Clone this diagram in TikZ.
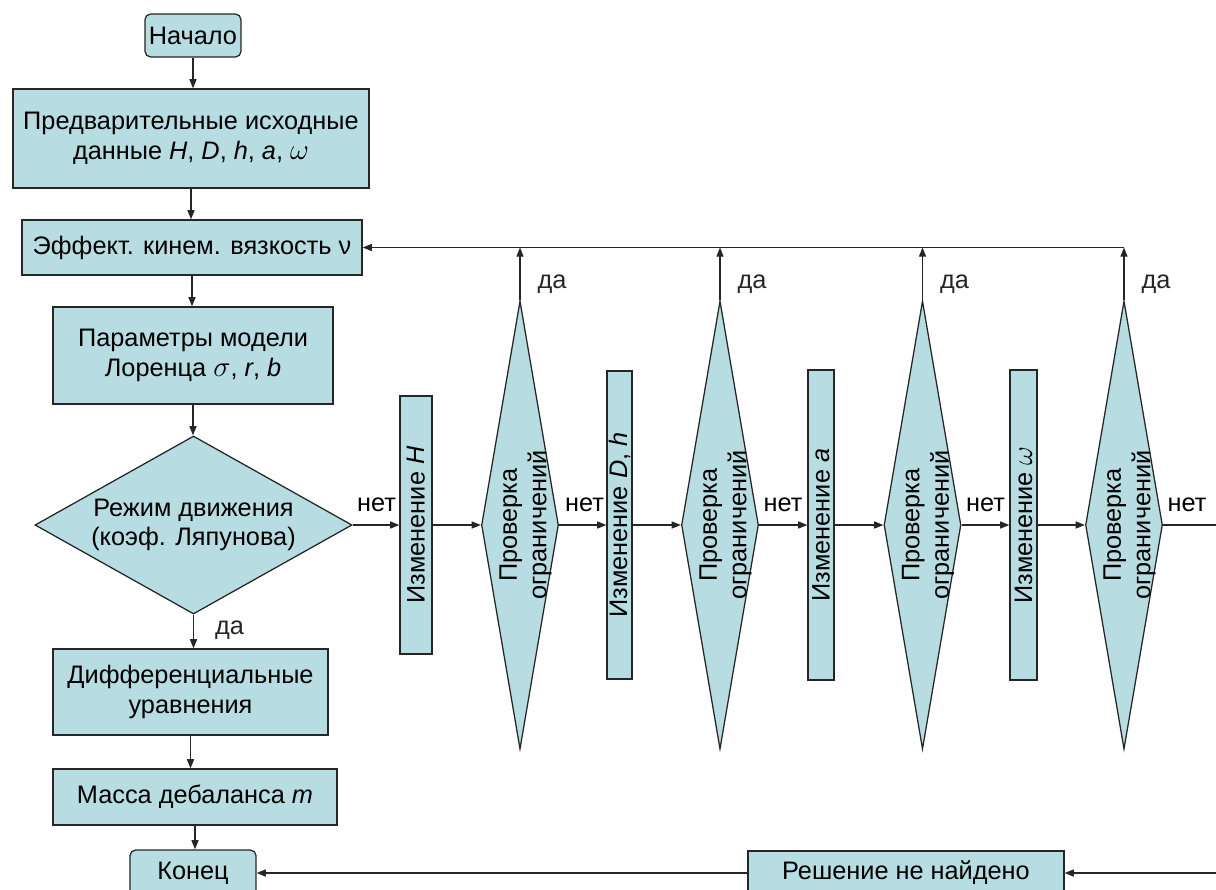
\documentclass[tikz,border=0pt]{standalone}
\usepackage{fontspec}
\setmainfont{Liberation Sans}
\usepackage{graphicx}
\usetikzlibrary{shapes.geometric,arrows.meta}
\definecolor{boxfill}{RGB}{183,221,226}
\newcommand{\grk}[1]{\scalebox{1.2}{$#1$}}
\begin{document}
\begin{tikzpicture}[x=0.025cm, y=-0.025cm,
		font=\fontsize{18}{21}\selectfont,
		blok/.style={draw=black!85, fill=boxfill, line width=0.9pt, inner sep=0pt, align=center},
		okr/.style={blok, rounded corners=4pt},
		romb/.style={blok, diamond, aspect=1.8},
		arr/.style={-{Triangle[length=6.5pt,width=5pt]}, line width=0.9pt, black!85},
		lbl/.style={inner sep=0pt}]
	\useasboundingbox (0,0) rectangle (1216,889);
	\clip (0,0) rectangle (1216,889);
	% left column
	\node[okr, minimum width=2.4cm, minimum height=1.075cm] (start) at (193,35.5) {Начало};
	\node[blok, minimum width=8.9cm, minimum height=2.475cm] (pre) at (191,138.5) {Предварительные исходные\\данные \textit{H}, \textit{D}, \textit{h}, \textit{a}, \grk{\omega}};
	\node[blok, minimum width=8.5cm, minimum height=1.375cm] (eff) at (192,247.5) {Эффект. кинем. вязкость ν};
	\node[blok, minimum width=7cm, minimum height=2.425cm] (par) at (193,355.5) {Параметры модели\\Лоренца \grk{\sigma}, \textit{r}, \textit{b}};
	\node[romb, minimum width=7.925cm, minimum height=4.45cm] (mode) at (193.5,525) {Режим движения\\(коэф. Ляпунова)};
	\node[blok, minimum width=6.875cm, minimum height=2.15cm] (dif) at (190.5,692) {Дифференциальные\\уравнения};
	\node[blok, minimum width=7.1cm, minimum height=1.4cm] (mass) at (195,797) {Масса дебаланса \textit{m}};
	\node[okr, minimum width=3.15cm, minimum height=1.15cm] (end) at (193,873) {Конец};
	\node[blok, minimum width=7.9cm, minimum height=1.1cm] (nf) at (906,873) {Решение не найдено};
	% changes and checks
	\node[blok, minimum width=0.8cm, minimum height=6.45cm] (chH) at (416,525) {\rotatebox{90}{Изменение \textit{H}}};
	\node[blok, minimum width=0.625cm, minimum height=7.7cm] (chD) at (619.5,525) {\rotatebox{90}{Изменение \textit{D}, \textit{h}}};
	\node[blok, minimum width=0.65cm, minimum height=7.75cm] (chA) at (821,525) {\rotatebox{90}{Изменение \textit{a}}};
	\node[blok, minimum width=0.675cm, minimum height=7.75cm] (chW) at (1023.5,525) {\rotatebox{90}{Изменение \grk{\omega}}};
	\foreach \n/\x in {1/520, 2/720, 3/922.5, 4/1124}{
		\node[romb, minimum width=1.925cm, minimum height=11.2cm] (d\n) at (\x,525) {};
		\node[lbl, rotate=90, align=center] (t\n) at ([xshift=4pt]d\n) {Проверка\\ограничений};
		\draw[arr] (d\n.north) -- node[lbl, right, xshift=12pt, pos=0.3] {да} (d\n.north |- eff.east);
	}
	\coordinate (rt) at (1240,525);
	% down the left column
	\draw[arr] (start.south) -- (start.south |- pre.north);
	\draw[arr] (pre.south) -- (pre.south |- eff.north);
	\draw[arr] (eff.south) -- (eff.south |- par.north);
	\draw[arr] (par.south) -- (par.south |- mode.north);
	\draw[arr] (mode.south) -- node[lbl, right, xshift=15pt, pos=0.45] {да} (mode.south |- dif.north);
	\draw[arr] (dif.south) -- (dif.south |- mass.north);
	\draw[arr] (mass.south) -- (mass.south |- end.north);
	% the "no" chain
	\node[lbl, anchor=south west] (n0) at ([xshift=3pt,yshift=9pt]mode.east) {нет};
	\node[lbl, anchor=south west] (n1) at ([xshift=4pt,yshift=9pt]d1.east) {нет};
	\node[lbl, anchor=south west] (n2) at ([xshift=3pt,yshift=9pt]d2.east) {нет};
	\node[lbl, anchor=south west] (n3) at ([xshift=3pt,yshift=9pt]d3.east) {нет};
	\node[lbl, anchor=south west] (n4) at ([xshift=3pt,yshift=9pt]d4.east) {нет};
	\draw[arr] (mode.east) -- (mode.east -| chH.west);
	\draw[arr] (chH.east) -- (chH.east -| d1.west);
	\draw[arr] (d1.east) -- (d1.east -| chD.west);
	\draw[arr] (chD.east) -- (chD.east -| d2.west);
	\draw[arr] (d2.east) -- (d2.east -| chA.west);
	\draw[arr] (chA.east) -- (chA.east -| d3.west);
	\draw[arr] (d3.east) -- (d3.east -| chW.west);
	\draw[arr] (chW.east) -- (chW.east -| d4.west);
	\draw[arr] (d4.east) -- (rt) |- (nf.east);
	\draw[arr] (nf.west) -- (end.east);
	% back to the viscosity
	\draw[arr] (d4.north |- eff.east) -- (eff.east);
\end{tikzpicture}
\end{document}
